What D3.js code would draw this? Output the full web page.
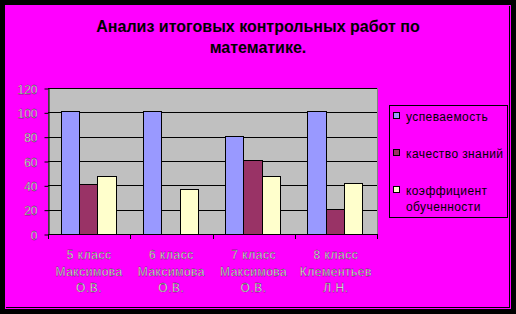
<!DOCTYPE html>
<html>
<head>
<meta charset="utf-8">
<script src="https://cdn.jsdelivr.net/npm/d3@7"></script>
<style>
  body { margin: 0; background: #000; }
  svg { display: block; font-family: Arial, "Liberation Sans", sans-serif; }
</style>
</head>
<body>
<div id="chart"></div>
<script>
// categories: each label split into its lines
var categories = [
    ["5 класс", "Максимова", "О.В."],
    ["6 класс", "Максимова", "О.В."],
    ["7 класс", "Максимова", "О.В."],
    ["8 класс", "Клементьев", "Л.Н."]
];
var seriesNames = ["успеваемость", "качество знаний", "коэффициент обученности"];
var uspevaemost = [100, 100, 80, 100];
var kachestvo   = [40, null, 60, 20];
var koefficient = [47, 36, 47, 41];
var yTicks = [0, 20, 40, 60, 80, 100, 120];
var titleLines = ["Анализ итоговых контрольных работ по", "математике."];

var colors = ["#9999FF", "#993366", "#FFFFCC"];
var series = [uspevaemost, kachestvo, koefficient];

var W = 516, H = 314;
var plot = {left: 48, right: 377, top: 88, bottom: 234};

var svg = d3.select("#chart").append("svg")
    .attr("width", W).attr("height", H);

// frame
svg.append("rect").attr("width", W).attr("height", H).attr("fill", "#000");
svg.append("rect").attr("x", 5.5).attr("y", 5.5).attr("width", 505).attr("height", 303)
    .attr("fill", "none").attr("stroke", "#FF00FF");
svg.append("rect").attr("x", 6).attr("y", 6).attr("width", 503).attr("height", 301)
    .attr("fill", "#FF00FF");
svg.append("line").attr("x1", 509.5).attr("x2", 509.5).attr("y1", 6).attr("y2", 308)
    .attr("stroke", "#000");
svg.append("line").attr("x1", 6).attr("x2", 510).attr("y1", 307.5).attr("y2", 307.5)
    .attr("stroke", "#000");

// title
svg.append("g").selectAll("text").data(titleLines).enter().append("text")
    .attr("x", 258).attr("y", function(d, i){ return 32 + i * 21; })
    .attr("text-anchor", "middle")
    .style("font-size", "16px").style("font-weight", "bold")
    .attr("fill", "#000")
    .text(function(d){ return d; });

var y = d3.scaleLinear().domain([0, 120]).range([plot.bottom, plot.top]);
var x0 = d3.scaleBand().domain(d3.range(categories.length))
    .range([plot.left, plot.right]).paddingInner(0).paddingOuter(0);
var x1 = d3.scaleBand().domain(d3.range(series.length))
    .range([0, x0.bandwidth()]).paddingOuter(0.75).paddingInner(0);

// plot area
svg.append("rect").attr("x", plot.left + 0.5).attr("y", plot.top + 0.5)
    .attr("width", plot.right - plot.left).attr("height", plot.bottom - plot.top)
    .attr("fill", "#C0C0C0").attr("stroke", "#808080");

// gridlines
svg.append("g").selectAll("line").data(yTicks.filter(function(t){ return t > 0; }))
    .enter().append("line")
    .attr("x1", plot.left).attr("x2", plot.right)
    .attr("y1", function(d){ return Math.round(y(d)) + 0.5; })
    .attr("y2", function(d){ return Math.round(y(d)) + 0.5; })
    .attr("stroke", "#000");

// bars
var bars = [];
series.forEach(function(s, si) {
    s.forEach(function(v, ci) {
        if (v !== null) bars.push({si: si, ci: ci, v: v});
    });
});
svg.append("g").selectAll("rect").data(bars).enter().append("rect")
    .attr("x", function(d){ return Math.round(x0(d.ci) + x1(d.si)) - 0.5; })
    .attr("y", function(d){ return Math.round(y(d.v)) - 0.5; })
    .attr("width", function(d){
        return Math.round(x0(d.ci) + x1(d.si) + x1.bandwidth()) - Math.round(x0(d.ci) + x1(d.si));
    })
    .attr("height", function(d){ return plot.bottom - Math.round(y(d.v)) + 1; })
    .attr("fill", function(d){ return colors[d.si]; })
    .attr("stroke", "#000");

// y axis
var yAxis = svg.append("g").attr("transform", "translate(" + (plot.left + 0.5) + ",0.5)")
    .call(d3.axisLeft(y).tickValues(yTicks).tickSize(4).tickPadding(7).tickSizeOuter(0));
yAxis.select(".domain").attr("stroke", "#000");
yAxis.selectAll(".tick line").attr("stroke", "#000");
yAxis.selectAll("text")
    .style("font-size", "12px").style("font-family", "Arial, sans-serif")
    .attr("fill", "#fff").attr("stroke", "#222").attr("stroke-width", 0.3)
    .attr("dy", "0.4em");

// x axis
var xAxisG = svg.append("g");
xAxisG.append("line").attr("x1", plot.left).attr("x2", plot.right + 1)
    .attr("y1", plot.bottom + 0.5).attr("y2", plot.bottom + 0.5).attr("stroke", "#000");
var bounds = d3.range(categories.length + 1).map(function(i){
    return i < categories.length ? x0(i) : plot.right;
});
xAxisG.selectAll("line.tk").data(bounds).enter().append("line").attr("class", "tk")
    .attr("x1", function(d){ return Math.round(d) + 0.5; })
    .attr("x2", function(d){ return Math.round(d) + 0.5; })
    .attr("y1", plot.bottom).attr("y2", plot.bottom + 5)
    .attr("stroke", "#000");

var catLabels = xAxisG.selectAll("text").data(categories).enter().append("text")
    .attr("text-anchor", "middle")
    .style("font-size", "12px").style("letter-spacing", "0.5px")
    .attr("fill", "#fff").attr("stroke", "#222").attr("stroke-width", 0.3);
catLabels.selectAll("tspan").data(function(d, i){
        return d.map(function(t){ return {t: t, ci: i}; });
    }).enter().append("tspan")
    .attr("x", function(d){ return x0(d.ci) + x0.bandwidth() / 2; })
    .attr("y", function(d, j){ return 259 + j * 16.5; })
    .text(function(d){ return d.t; });

// legend
var legend = svg.append("g");
legend.append("rect").attr("x", 389.5).attr("y", 105.5).attr("width", 118).attr("height", 112)
    .attr("fill", "none").attr("stroke", "#000");
var legendLines = [["успеваемость"], ["качество знаний"], ["коэффициент", "обученности"]];
var legendY = [113, 150, 187];
var items = legend.selectAll("g.item").data(seriesNames).enter().append("g").attr("class", "item");
items.append("rect")
    .attr("x", 393.5).attr("y", function(d, i){ return legendY[i] - 0.5; })
    .attr("width", 6).attr("height", 6)
    .attr("fill", function(d, i){ return colors[i]; })
    .attr("stroke", "#000");
items.append("text")
    .style("font-size", "12px").style("letter-spacing", "0.4px")
    .attr("fill", "#000")
    .selectAll("tspan").data(function(d, i){
        return legendLines[i].map(function(t){ return {t: t, i: i}; });
    }).enter().append("tspan")
    .attr("x", 406)
    .attr("y", function(d, j){ return legendY[d.i] + 8 + j * 16; })
    .text(function(d){ return d.t; });
</script>
</body>
</html>
